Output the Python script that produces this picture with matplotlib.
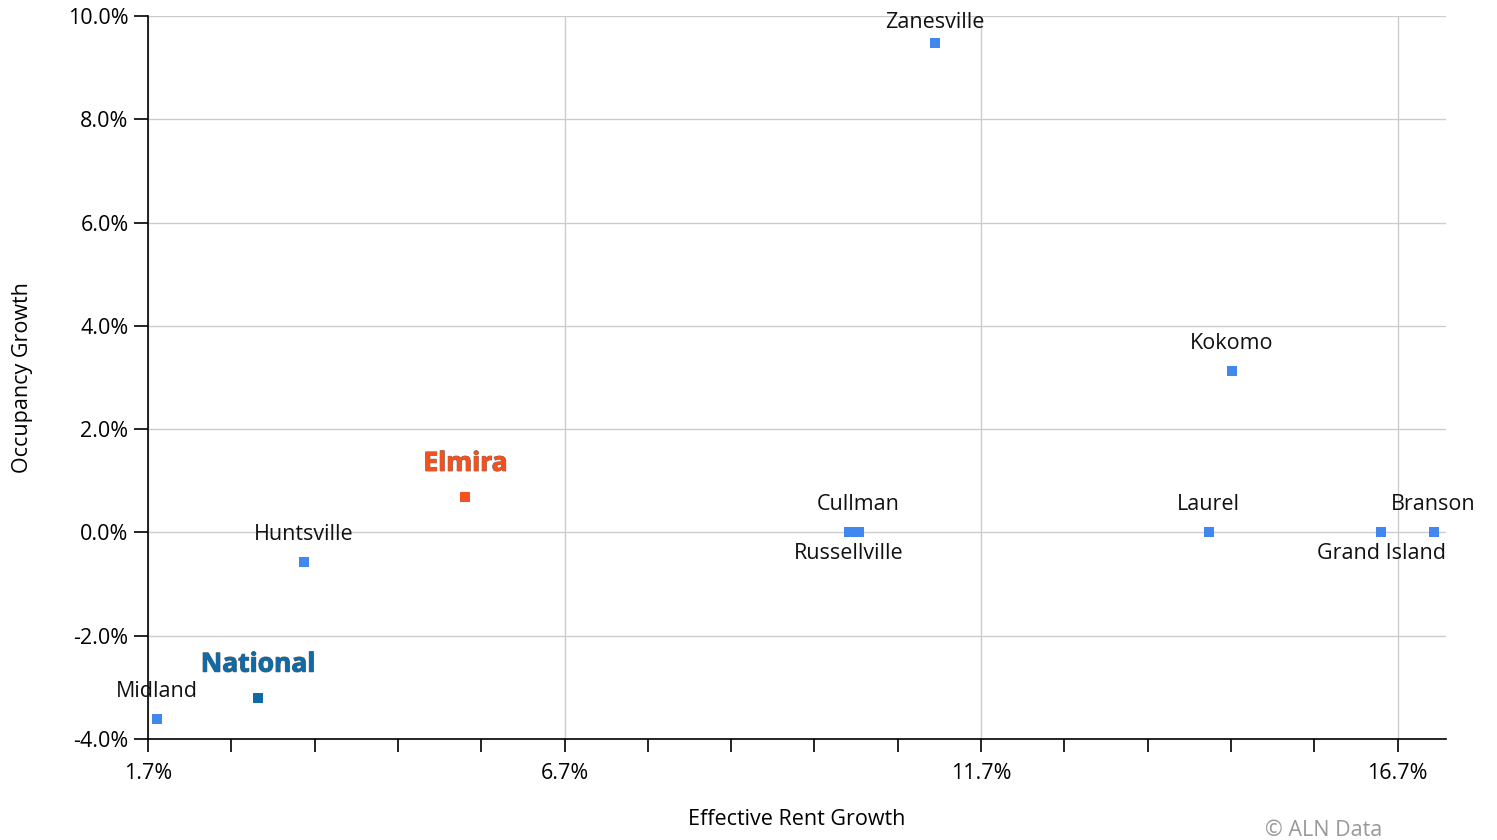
import matplotlib.pyplot as plt
import matplotlib.patheffects as pe
from matplotlib.ticker import MultipleLocator, FixedLocator

plt.rcParams['font.family'] = ['Open Sans', 'DejaVu Sans']

# market data: effective rent growth (%) vs occupancy growth (%)
cities = ['Zanesville', 'Kokomo', 'Huntsville', 'Midland', 'Cullman',
          'Russellville', 'Laurel', 'Grand Island', 'Branson']
rent_growth = [11.15, 14.71, 3.57, 1.81, 10.23, 10.11, 14.43, 16.50, 17.13]
occ_growth = [9.47, 3.12, -0.58, -3.62, 0.0, 0.0, 0.0, 0.0, 0.0]
label_below = ['Russellville', 'Grand Island']

highlight = ['Elmira', 'National']
hl_rent = [5.51, 3.02]
hl_occ = [0.68, -3.21]
hl_colors = ['#f4511e', '#0f6aa6']

blue = '#4286f0'
fs = 15.5

fig = plt.figure(figsize=(14.97, 8.4), dpi=100)
ax = fig.add_axes([148 / 1497, 101 / 840, 1298 / 1497, 723 / 840])

ax.scatter(rent_growth, occ_growth, marker='s', s=50, color=blue, zorder=3, linewidths=0)
for name, x, y in zip(cities, rent_growth, occ_growth):
    dy = -21 if name in label_below else 28
    if name == 'Zanesville':
        dy = 21  # kept inside the top of the chart
    ax.annotate(name, (x, y), xytext=(0, dy), textcoords='offset pixels',
                ha='center', va='center', fontsize=fs, color='#111111')

for name, x, y, c in zip(highlight, hl_rent, hl_occ, hl_colors):
    ax.scatter([x], [y], marker='s', s=50, color=c, zorder=3, linewidths=0)
    t = ax.annotate(name, (x, y), xytext=(0, 34), textcoords='offset pixels',
                    ha='center', va='center', fontsize=19, fontweight='bold', color=c)
    t.set_path_effects([pe.withStroke(linewidth=0.8, foreground='#666666'), pe.Normal()])

ax.set_xlim(1.7, 17.28)
ax.set_ylim(-4.0, 10.0)
ax.xaxis.set_major_locator(FixedLocator([1.7, 6.7, 11.7, 16.7]))
ax.xaxis.set_minor_locator(FixedLocator([1.7 + i for i in range(16)]))
ax.yaxis.set_major_locator(MultipleLocator(2))
ax.xaxis.set_major_formatter(lambda v, p: f'{v:.1f}%')
ax.yaxis.set_major_formatter(lambda v, p: f'{v:.1f}%')

ax.grid(True, which='major', color='#cccccc', linewidth=1.0)
ax.set_axisbelow(True)
for s in ['top', 'right']:
    ax.spines[s].set_visible(False)
for s in ['left', 'bottom']:
    ax.spines[s].set_color('black')
    ax.spines[s].set_linewidth(1.2)

ax.tick_params(axis='x', which='both', length=9, width=1.2, labelsize=fs, pad=8)
ax.tick_params(axis='y', length=10, width=1.2, labelsize=fs, pad=4)

ax.set_xlabel('Effective Rent Growth', fontsize=fs)
ax.set_ylabel('Occupancy Growth', fontsize=fs)
ax.xaxis.set_label_coords(0.5, -0.112)
ax.yaxis.set_label_coords(-0.097, 0.5)
ax.xaxis.label.set_va('center')
ax.yaxis.label.set_va('center')

fig.text(1324 / 1497, 1 - 830 / 840, '\u00a9 ALN Data', ha='center', va='center',
         fontsize=fs, color='#999999')

fig.savefig('out.png', dpi=100)
